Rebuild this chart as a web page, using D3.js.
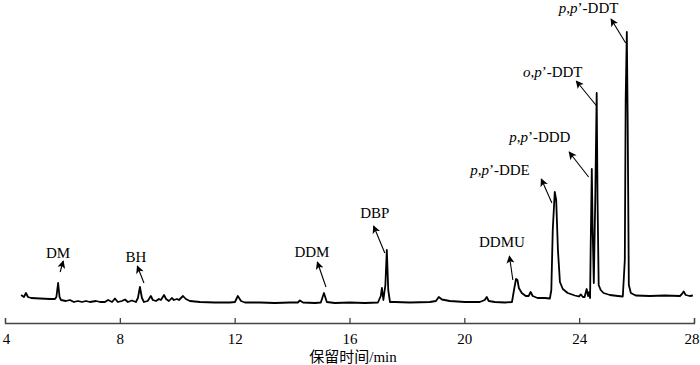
<!DOCTYPE html>
<html>
<head>
<meta charset="utf-8">
<script src="https://cdn.jsdelivr.net/npm/d3@7"></script>
<style>
  html, body { margin: 0; padding: 0; background: #fff; }
  svg { display: block; }
  text { font-family: "Liberation Serif", "Times New Roman", "Noto Sans CJK SC", serif; fill: #000; }
</style>
</head>
<body>
<svg id="chart" width="700" height="365"></svg>
<script>
// Retention time (min)
const times = [
  4.56, 4.66, 4.73, 4.80, 4.91, 5.22, 5.57, 5.74, 5.79, 5.85, 5.90, 5.95,
  6.12, 6.26, 6.40, 6.54, 6.68, 6.82, 6.96, 7.17, 7.31, 7.48, 7.59, 7.73,
  7.83, 7.93, 8.07, 8.18, 8.28, 8.42, 8.56, 8.63, 8.70, 8.77, 8.84, 8.97,
  9.08, 9.15, 9.26, 9.36, 9.43, 9.54, 9.61, 9.71, 9.81, 9.88, 9.99, 10.06,
  10.20, 10.30, 10.44, 10.79, 11.31, 11.83, 12.01, 12.11, 12.22, 12.36, 12.88, 13.40,
  13.92, 14.20, 14.27, 14.38, 14.80, 15.00, 15.11, 15.21, 15.49, 16.01, 16.54, 16.99,
  17.09, 17.13, 17.18, 17.25, 17.30, 17.35, 17.41, 17.58, 18.10, 18.80, 19.01, 19.11,
  19.22, 19.49, 20.02, 20.54, 20.71, 20.78, 20.85, 21.06, 21.41, 21.66, 21.73, 21.80,
  21.85, 21.90, 22.00, 22.14, 22.24, 22.31, 22.38, 22.55, 22.80, 22.98, 23.03, 23.08,
  23.15, 23.20, 23.26, 23.33, 23.43, 23.60, 23.85, 23.99, 24.06, 24.13, 24.19, 24.26,
  24.31, 24.35, 24.38, 24.40, 24.44, 24.47, 24.51, 24.56, 24.61, 24.64, 24.68, 24.75,
  24.85, 25.07, 25.35, 25.52, 25.59, 25.62, 25.66, 25.69, 25.73, 25.80, 25.97, 26.46,
  26.98, 27.51, 27.58, 27.64, 27.71, 27.85, 27.96
];
// Detector response (relative units)
const signal = [
  35, 33, 37, 33, 32, 31.5, 31, 31, 33, 47, 33, 30,
  29, 30, 28, 29, 28, 29, 28, 29, 28, 28, 30, 28,
  31.5, 28, 29, 30.5, 28, 29.5, 28, 32, 43, 32, 28, 29,
  34, 30, 29, 31, 30, 35, 31, 29, 32, 30, 31, 30,
  34, 31, 29, 28, 27.5, 27.5, 28, 34, 29, 27.5, 27.5, 27,
  27.5, 27.5, 29.5, 27.5, 27, 27.5, 37, 28, 27, 27.5, 27, 27.5,
  34, 42, 30, 45, 80, 40, 28, 28, 27.5, 28, 29, 33,
  30.5, 29, 28, 28, 30, 33, 29, 28, 27.5, 28, 40, 51,
  50, 42, 37, 34, 34, 38, 34, 32, 32, 31.5, 40, 100,
  138, 130, 80, 48, 41, 37, 34.5, 33.5, 35.5, 33, 33, 41,
  34, 38, 32, 80, 161, 100, 47, 130, 237, 130, 45, 40,
  37, 35, 34, 33.5, 70, 230, 298, 210, 45, 37, 34.5, 34,
  34.5, 34, 36, 38.5, 35, 34, 34.5
];
// Axis ticks
const tickValues = [4, 8, 12, 16, 20, 24, 28];
const axisTitle = "保留时间/min";

// Peak annotations (italic parts flagged)
const labelNames = ["DM", "BH", "DDM", "DBP", "DDMU", "p,p’-DDE", "p,p’-DDD", "o,p’-DDT", "p,p’-DDT"];
const labelParts = [
  [["DM", false]],
  [["BH", false]],
  [["DDM", false]],
  [["DBP", false]],
  [["DDMU", false]],
  [["p", true], [",", false], ["p", true], ["’-DDE", false]],
  [["p", true], [",", false], ["p", true], ["’-DDD", false]],
  [["o", true], [",", false], ["p", true], ["’-DDT", false]],
  [["p", true], [",", false], ["p", true], ["’-DDT", false]]
];
const labelTime   = [5.85, 8.56, 14.69, 16.88, 21.31, 21.24, 22.63, 23.08, 24.33];
const labelSignal = [77, 73, 78, 117, 88, 160, 193, 258, 322];
const arrowFromTime   = [5.92, 8.84, 15.18, 17.23, 21.69, 23.05, 24.33, 24.61, 25.62];
const arrowFromSignal = [58, 47, 43, 77, 50, 127, 153, 224, 287];
const arrowToTime     = [6.03, 8.61, 14.88, 16.84, 21.57, 22.68, 23.65, 23.90, 25.11];
const arrowToSignal   = [69, 64, 68, 104, 74, 151, 178, 249, 311];

const svg = d3.select("#chart");

const x = d3.scaleLinear().domain([4, 28]).range([5, 694]);
const y = d3.scaleLinear().domain([0, 300]).range([330, 30]);

// arrow marker
svg.append("defs").append("marker")
  .attr("id", "arrow")
  .attr("viewBox", "0 0 10 10")
  .attr("refX", 9).attr("refY", 5)
  .attr("markerWidth", 10).attr("markerHeight", 8)
  .attr("markerUnits", "userSpaceOnUse")
  .attr("orient", "auto")
  .append("path")
  .attr("d", "M0,0 L10,5 L0,10 L2.5,5 Z")
  .attr("fill", "#000");

// axis
const axis = d3.axisBottom(x)
  .tickValues(tickValues)
  .tickSizeInner(-5)
  .tickSizeOuter(-5)
  .tickPadding(10)
  .tickFormat(d3.format("d"));

const gAxis = svg.append("g")
  .attr("transform", "translate(0,323)")
  .call(axis);
gAxis.select(".domain").attr("stroke", "#444").attr("stroke-width", 1.3);
gAxis.selectAll(".tick line").attr("stroke", "#444").attr("stroke-width", 1.3);
gAxis.selectAll(".tick text")
  .attr("font-family", "'Liberation Serif', 'Times New Roman', serif")
  .attr("font-size", 15)
  .attr("fill", "#000")
  .attr("dx", d => d === 28 ? -2.5 : (d === 4 ? 1 : 0));

svg.append("text")
  .attr("x", 353).attr("y", 362)
  .attr("text-anchor", "middle")
  .attr("font-size", 15)
  .text(axisTitle);

// chromatogram trace
const pts = times.map((t, i) => [t, signal[i]]);
const line = d3.line().x(d => x(d[0])).y(d => y(d[1]));
svg.append("path")
  .datum(pts)
  .attr("d", line)
  .attr("fill", "none")
  .attr("stroke", "#000")
  .attr("stroke-width", 1.8)
  .attr("stroke-linejoin", "round");

// annotations
labelNames.forEach((name, i) => {
  svg.append("line")
    .attr("x1", x(arrowFromTime[i])).attr("y1", y(arrowFromSignal[i]))
    .attr("x2", x(arrowToTime[i])).attr("y2", y(arrowToSignal[i]))
    .attr("stroke", "#000").attr("stroke-width", 1.1)
    .attr("marker-end", "url(#arrow)");
  const t = svg.append("text")
    .attr("x", x(labelTime[i])).attr("y", y(labelSignal[i]))
    .attr("dy", "0.35em")
    .attr("text-anchor", "middle")
    .attr("font-size", 15);
  labelParts[i].forEach(([s, it]) => {
    t.append("tspan").attr("font-style", it ? "italic" : "normal").text(s);
  });
});
</script>
</body>
</html>
